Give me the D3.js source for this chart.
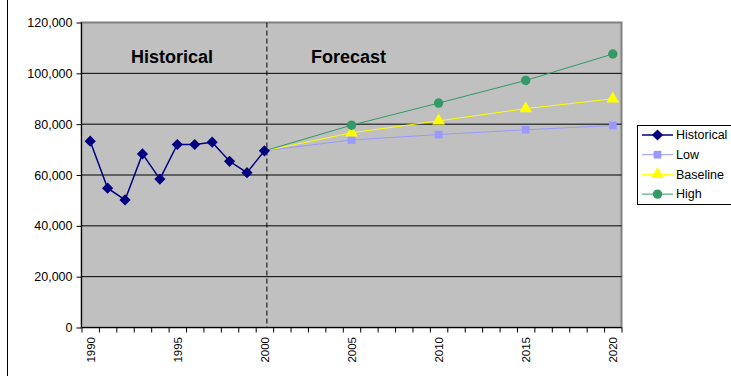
<!DOCTYPE html>
<html>
<head>
<meta charset="utf-8">
<script src="https://cdn.jsdelivr.net/npm/d3@7"></script>
<style>
  body { margin: 0; background: #fff; }
  text { font-family: "Liberation Sans", Arial, sans-serif; }
</style>
</head>
<body>
<script>
// data
var histYears = [1990,1991,1992,1993,1994,1995,1996,1997,1998,1999,2000];
var histValues = [73300,54800,50200,68300,58400,72000,72000,72900,65400,60900,69500];
var fcYears = [2000,2005,2010,2015,2020];
var lowValues = [69500,73800,75900,77800,79500];
var baseValues = [69500,76600,81300,86100,90000];
var highValues = [69500,79600,88300,97200,107600];
var yTicks = [0,20000,40000,60000,80000,100000,120000];
var labelYears = [1990,1995,2000,2005,2010,2015,2020];

var W = 731, H = 376;
var pLeft = 81.5, pRight = 621.5, pTop = 22.5, pBottom = 327.5;

var svg = d3.select("body").append("svg")
    .attr("width", W)
    .attr("height", H);

var x = d3.scaleLinear().domain([1989.5, 2020.5]).range([pLeft, pRight]);
var y = d3.scaleLinear().domain([0, 120000]).range([pBottom, pTop]);

// chart area left border
svg.append("line")
    .attr("x1", 7.5).attr("x2", 7.5)
    .attr("y1", 0).attr("y2", H)
    .attr("stroke", "#000").attr("stroke-width", 1);

// plot area
svg.append("rect")
    .attr("x", pLeft).attr("y", pTop)
    .attr("width", pRight - pLeft).attr("height", pBottom - pTop)
    .attr("fill", "#c0c0c0")
    .attr("stroke", "#808080").attr("stroke-width", 2);

// grid
svg.append("g").selectAll("line")
    .data(yTicks.slice(1, -1))
    .enter().append("line")
    .attr("x1", pLeft).attr("x2", pRight)
    .attr("y1", function(d) { return y(d); })
    .attr("y2", function(d) { return y(d); })
    .attr("stroke", "#000").attr("stroke-width", 1);

// y axis
var yAxis = svg.append("g")
    .attr("transform", "translate(" + pLeft + ",0)")
    .call(d3.axisLeft(y).tickValues(yTicks).tickSize(5).tickPadding(4)
        .tickFormat(d3.format(",")));
yAxis.selectAll("text").attr("font-size", "12.5px").attr("fill", "#000")
    .style("font-family", "Liberation Sans, Arial, sans-serif");
yAxis.selectAll("line").attr("stroke", "#000");
yAxis.select(".domain").attr("stroke", "#000").attr("d", "M0," + pTop + "V" + pBottom);

// x axis ticks between categories
var xAxis = svg.append("g")
    .attr("transform", "translate(0," + pBottom + ")")
    .call(d3.axisBottom(x).tickValues(d3.range(1989.5, 2021, 1)).tickSize(5).tickFormat(""));
xAxis.selectAll("line").attr("stroke", "#000");
xAxis.select(".domain").attr("stroke", "#000").attr("d", "M" + pLeft + ",0H" + pRight);

// x labels
svg.append("g").selectAll("text")
    .data(labelYears)
    .enter().append("text")
    .attr("transform", function(d) {
        return "translate(" + (x(d) + 0.5) + ",337) rotate(-90)";
    })
    .attr("text-anchor", "end")
    .attr("dy", "0.35em")
    .attr("font-size", "11.5px")
    .text(function(d) { return d; });

// divider
svg.append("line")
    .attr("x1", x(2000) + 2.5).attr("x2", x(2000) + 2.5)
    .attr("y1", pTop).attr("y2", pBottom)
    .attr("stroke", "#000").attr("stroke-width", 1)
    .attr("stroke-dasharray", "5,3");

svg.append("text").attr("x", 131).attr("y", 63)
    .attr("font-size", "18px").attr("font-weight", "bold").text("Historical");
svg.append("text").attr("x", 311).attr("y", 63)
    .attr("font-size", "18px").attr("font-weight", "bold").text("Forecast");

var series = [
    {name: "Historical", xs: histYears, vs: histValues, color: "#000080", width: 1.5, marker: "diamond"},
    {name: "Low", xs: fcYears, vs: lowValues, color: "#9999ff", width: 1, marker: "square"},
    {name: "Baseline", xs: fcYears, vs: baseValues, color: "#ffff00", width: 1, marker: "triangle"},
    {name: "High", xs: fcYears, vs: highValues, color: "#339966", width: 1, marker: "circle"}
];

var symbols = {
    diamond: d3.symbol().type(d3.symbolDiamond2).size(80),
    square: d3.symbol().type(d3.symbolSquare).size(60),
    triangle: d3.symbol().type(d3.symbolTriangle).size(70),
    circle: d3.symbol().type(d3.symbolCircle).size(70)
};

var line = d3.line();

// draw forecast first, historical on top
[1, 2, 3, 0].forEach(function(i) {
    var s = series[i];
    var pts = s.xs.map(function(yr, j) { return [x(yr), y(s.vs[j])]; });
    svg.append("path")
        .attr("d", line(pts))
        .attr("fill", "none")
        .attr("stroke", s.color)
        .attr("stroke-width", s.width);
    svg.append("g").selectAll("path")
        .data(pts.filter(function(p, j) { return i === 0 || j > 0; }))
        .enter().append("path")
        .attr("d", symbols[s.marker])
        .attr("transform", function(p) { return "translate(" + p[0] + "," + p[1] + ")"; })
        .attr("fill", s.color);
});

// legend
var lg = svg.append("g");
lg.append("rect")
    .attr("x", 637.5).attr("y", 125.5)
    .attr("width", 110).attr("height", 79)
    .attr("fill", "#fff").attr("stroke", "#000");
series.forEach(function(s, i) {
    var ly = 135 + i * 19.7;
    lg.append("line")
        .attr("x1", 642).attr("x2", 673)
        .attr("y1", ly).attr("y2", ly)
        .attr("stroke", s.color).attr("stroke-width", s.width);
    lg.append("path")
        .attr("d", symbols[s.marker])
        .attr("transform", "translate(657.5," + ly + ")")
        .attr("fill", s.color);
    lg.append("text")
        .attr("x", 676).attr("y", ly)
        .attr("dy", "0.35em")
        .attr("font-size", "12.5px")
        .text(s.name);
});
</script>
</body>
</html>
